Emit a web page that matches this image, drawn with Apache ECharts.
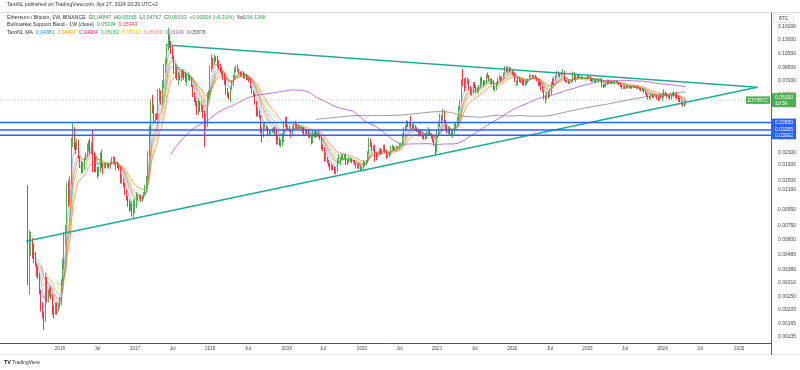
<!DOCTYPE html>
<html><head><meta charset="utf-8">
<script src="https://cdn.jsdelivr.net/npm/echarts@6/dist/echarts.min.js"></script>
<style>html,body{margin:0;padding:0;background:#fff}#c{width:800px;height:370px}</style>
</head><body><div id="c"></div>
<script>
// ---------- data (weekly ETH/BTC, weeks start Monday 2015-08-03) ----------
const firstWeek = '2015-08-03';
const firstOpen = 0.0090;
const close2015 = [0.0037,0.0055,0.0058,0.0052,0.0046,0.0041,0.0037,0.0035,0.0027,0.0022,0.0019,0.0018,0.0030,0.0026,0.0027,0.0028,0.0025,0.0021,0.0020,0.0021,0.0020,0.0022];
const high2015  = [0.0140,0.0070,0.0068,0.0062,0.0057,0.0050,0.0042,0.0040,0.0036,0.0028,0.0023,0.0020,0.0036,0.0034,0.0028,0.0030,0.0029,0.0026,0.0022,0.0023,0.0023,0.0023];
const low2015   = [0.0030,0.0026,0.0047,0.0045,0.0042,0.0040,0.0034,0.0033,0.0026,0.0020,0.0018,0.0015,0.0017,0.0023,0.0023,0.0025,0.0024,0.0019,0.0018,0.0019,0.0019,0.0020];
const close2016 = [0.0023,0.0032,0.0040,0.0063,0.0070,0.0140,0.0105,0.0145,0.0260,0.0330,0.0260,0.0248,0.0275,0.0213,0.0198,0.0178,0.0193,0.0209,0.0221,0.0255,0.0265,0.0240,0.0263,0.0225,0.0211,0.0178,0.0163,0.0175,0.0218,0.0195,0.0185,0.0186,0.0190,0.0190,0.0187,0.0195,0.0206,0.0213,0.0195,0.0197,0.0187,0.0181,0.0150,0.0152,0.0141,0.0127,0.0114,0.0105,0.0099,0.0104,0.0087,0.0098];
const high2016  = [0.0025,0.0033,0.0045,0.0068,0.0075,0.0145,0.0150,0.0160,0.0290,0.0365,0.0340,0.0270,0.0285,0.0280,0.0220,0.0200,0.0200,0.0215,0.0230,0.0265,0.0275,0.0285,0.0270,0.0325,0.0230,0.0215,0.0185,0.0185,0.0230,0.0240,0.0195,0.0195,0.0195,0.0194,0.0195,0.0200,0.0215,0.0218,0.0215,0.0200,0.0200,0.0190,0.0185,0.0165,0.0155,0.0145,0.0130,0.0118,0.0112,0.0108,0.0105,0.0110];
const low2016   = [0.0021,0.0022,0.0030,0.0038,0.0055,0.0068,0.0100,0.0105,0.0140,0.0250,0.0240,0.0225,0.0240,0.0208,0.0182,0.0168,0.0167,0.0175,0.0205,0.0215,0.0235,0.0225,0.0225,0.0170,0.0170,0.0170,0.0155,0.0160,0.0170,0.0180,0.0165,0.0180,0.0180,0.0182,0.0180,0.0180,0.0192,0.0200,0.0190,0.0175,0.0181,0.0175,0.0143,0.0142,0.0135,0.0120,0.0110,0.0100,0.0093,0.0094,0.0086,0.0084];
const close2017 = [0.0100,0.0117,0.0117,0.0117,0.0112,0.0115,0.0122,0.0136,0.0152,0.0230,0.0320,0.0500,0.0460,0.0375,0.0410,0.0390,0.0580,0.0590,0.0495,0.0640,0.0810,0.0920,0.1200,0.1300,0.1230,0.1140,0.0990,0.0790,0.0820,0.0740,0.0760,0.0730,0.0770,0.0760,0.0750,0.0710,0.0740,0.0740,0.0710,0.0640,0.0550,0.0530,0.0490,0.0420,0.0490,0.0440,0.0480,0.0430,0.0350,0.0360,0.0550,0.0560];
const high2017  = [0.0115,0.0125,0.0122,0.0120,0.0120,0.0118,0.0125,0.0140,0.0160,0.0235,0.0350,0.0520,0.0560,0.0480,0.0420,0.0420,0.0610,0.0620,0.0600,0.0700,0.0900,0.0980,0.1220,0.1560,0.1420,0.1280,0.1180,0.1020,0.0900,0.0860,0.0800,0.0780,0.0810,0.0830,0.0810,0.0800,0.0780,0.0790,0.0760,0.0730,0.0650,0.0580,0.0540,0.0510,0.0530,0.0510,0.0510,0.0480,0.0440,0.0420,0.0580,0.0600];
const low2017   = [0.0090,0.0098,0.0110,0.0113,0.0108,0.0108,0.0112,0.0118,0.0130,0.0150,0.0215,0.0300,0.0420,0.0360,0.0360,0.0380,0.0385,0.0500,0.0480,0.0480,0.0620,0.0780,0.0880,0.1100,0.1150,0.1050,0.0960,0.0770,0.0720,0.0700,0.0650,0.0700,0.0690,0.0730,0.0700,0.0680,0.0640,0.0700,0.0690,0.0630,0.0540,0.0500,0.0470,0.0410,0.0410,0.0430,0.0430,0.0390,0.0250,0.0330,0.0340,0.0520];
const close2018 = [0.0830,0.0950,0.0900,0.0990,0.0980,0.0900,0.0890,0.0830,0.0780,0.0760,0.0710,0.0580,0.0570,0.0560,0.0620,0.0680,0.0740,0.0820,0.0830,0.0830,0.0790,0.0780,0.0790,0.0760,0.0760,0.0720,0.0720,0.0710,0.0630,0.0590,0.0560,0.0500,0.0450,0.0420,0.0400,0.0330,0.0310,0.0340,0.0345,0.0330,0.0305,0.0315,0.0315,0.0325,0.0330,0.0320,0.0268,0.0290,0.0260,0.0265,0.0280,0.0350,0.0380];
const high2018  = [0.0880,0.1040,0.0990,0.1040,0.1010,0.1020,0.0950,0.0900,0.0860,0.0800,0.0770,0.0720,0.0620,0.0580,0.0630,0.0700,0.0760,0.0850,0.0880,0.0890,0.0840,0.0800,0.0810,0.0800,0.0780,0.0770,0.0760,0.0730,0.0720,0.0640,0.0600,0.0570,0.0510,0.0460,0.0440,0.0410,0.0340,0.0360,0.0370,0.0350,0.0340,0.0325,0.0320,0.0335,0.0340,0.0340,0.0330,0.0300,0.0290,0.0280,0.0310,0.0370,0.0400];
const low2018   = [0.0530,0.0800,0.0830,0.0880,0.0930,0.0850,0.0820,0.0790,0.0760,0.0700,0.0650,0.0560,0.0540,0.0520,0.0500,0.0600,0.0640,0.0720,0.0790,0.0800,0.0770,0.0740,0.0760,0.0720,0.0710,0.0700,0.0700,0.0680,0.0620,0.0570,0.0540,0.0480,0.0400,0.0400,0.0390,0.0310,0.0270,0.0290,0.0330,0.0320,0.0295,0.0300,0.0305,0.0310,0.0315,0.0300,0.0260,0.0260,0.0255,0.0250,0.0255,0.0270,0.0340];
const close2019 = [0.0340,0.0340,0.0325,0.0310,0.0340,0.0345,0.0355,0.0340,0.0345,0.0340,0.0335,0.0320,0.0310,0.0325,0.0315,0.0300,0.0295,0.0270,0.0300,0.0310,0.0300,0.0310,0.0300,0.0285,0.0250,0.0245,0.0210,0.0210,0.0200,0.0190,0.0180,0.0185,0.0180,0.0170,0.0175,0.0200,0.0210,0.0210,0.0215,0.0215,0.0220,0.0195,0.0200,0.0205,0.0210,0.0200,0.0200,0.0195,0.0185,0.0190,0.0180,0.0185];
const high2019  = [0.0400,0.0350,0.0345,0.0330,0.0345,0.0360,0.0375,0.0360,0.0355,0.0350,0.0345,0.0340,0.0340,0.0330,0.0330,0.0320,0.0305,0.0300,0.0330,0.0320,0.0320,0.0320,0.0320,0.0305,0.0290,0.0260,0.0250,0.0230,0.0215,0.0205,0.0195,0.0195,0.0190,0.0185,0.0185,0.0210,0.0225,0.0215,0.0225,0.0225,0.0225,0.0225,0.0205,0.0215,0.0215,0.0210,0.0205,0.0205,0.0195,0.0195,0.0195,0.0190];
const low2019   = [0.0330,0.0325,0.0315,0.0290,0.0300,0.0335,0.0335,0.0330,0.0330,0.0330,0.0325,0.0310,0.0300,0.0300,0.0305,0.0290,0.0285,0.0260,0.0265,0.0290,0.0290,0.0290,0.0290,0.0280,0.0240,0.0235,0.0200,0.0200,0.0195,0.0185,0.0175,0.0175,0.0175,0.0165,0.0165,0.0170,0.0195,0.0190,0.0205,0.0205,0.0210,0.0190,0.0190,0.0195,0.0200,0.0195,0.0195,0.0190,0.0180,0.0180,0.0178,0.0175];
const close2020 = [0.0180,0.0195,0.0195,0.0200,0.0230,0.0280,0.0260,0.0250,0.0255,0.0225,0.0220,0.0225,0.0235,0.0230,0.0240,0.0255,0.0235,0.0220,0.0220,0.0225,0.0250,0.0250,0.0245,0.0245,0.0248,0.0250,0.0260,0.0260,0.0305,0.0330,0.0340,0.0360,0.0355,0.0365,0.0340,0.0345,0.0340,0.0335,0.0325,0.0300,0.0325,0.0305,0.0295,0.0290,0.0290,0.0310,0.0320,0.0310,0.0295,0.0275,0.0260,0.0235];
const high2020  = [0.0185,0.0205,0.0200,0.0205,0.0235,0.0290,0.0285,0.0270,0.0260,0.0260,0.0230,0.0230,0.0245,0.0245,0.0245,0.0260,0.0260,0.0240,0.0225,0.0230,0.0255,0.0260,0.0255,0.0250,0.0255,0.0255,0.0265,0.0265,0.0310,0.0340,0.0350,0.0380,0.0375,0.0370,0.0405,0.0360,0.0360,0.0350,0.0340,0.0330,0.0330,0.0330,0.0310,0.0300,0.0300,0.0320,0.0340,0.0330,0.0310,0.0300,0.0280,0.0265];
const low2020   = [0.0172,0.0178,0.0185,0.0190,0.0195,0.0225,0.0250,0.0235,0.0235,0.0200,0.0205,0.0215,0.0220,0.0225,0.0225,0.0235,0.0230,0.0210,0.0210,0.0215,0.0220,0.0240,0.0240,0.0240,0.0240,0.0245,0.0245,0.0250,0.0255,0.0290,0.0320,0.0330,0.0340,0.0345,0.0330,0.0330,0.0330,0.0320,0.0315,0.0295,0.0300,0.0295,0.0285,0.0280,0.0280,0.0285,0.0305,0.0300,0.0285,0.0270,0.0255,0.0220];
const close2021 = [0.0310,0.0340,0.0400,0.0385,0.0440,0.0375,0.0340,0.0320,0.0330,0.0305,0.0300,0.0310,0.0355,0.0355,0.0385,0.0460,0.0510,0.0680,0.0660,0.0640,0.0690,0.0690,0.0630,0.0570,0.0585,0.0665,0.0640,0.0590,0.0590,0.0630,0.0720,0.0690,0.0660,0.0670,0.0750,0.0750,0.0700,0.0700,0.0690,0.0620,0.0620,0.0660,0.0710,0.0720,0.0710,0.0730,0.0770,0.0840,0.0800,0.0850,0.0810,0.0820];
const high2021  = [0.0330,0.0370,0.0420,0.0410,0.0450,0.0440,0.0380,0.0345,0.0345,0.0335,0.0320,0.0320,0.0360,0.0370,0.0400,0.0470,0.0520,0.0710,0.0830,0.0720,0.0740,0.0730,0.0710,0.0640,0.0620,0.0680,0.0680,0.0650,0.0630,0.0650,0.0740,0.0730,0.0700,0.0700,0.0770,0.0790,0.0760,0.0720,0.0720,0.0700,0.0640,0.0680,0.0730,0.0760,0.0740,0.0750,0.0790,0.0870,0.0860,0.0870,0.0860,0.0850];
const low2021   = [0.0230,0.0300,0.0340,0.0370,0.0380,0.0370,0.0330,0.0310,0.0305,0.0300,0.0295,0.0290,0.0305,0.0330,0.0345,0.0380,0.0440,0.0500,0.0640,0.0590,0.0620,0.0660,0.0600,0.0560,0.0550,0.0570,0.0620,0.0580,0.0570,0.0580,0.0620,0.0660,0.0640,0.0650,0.0660,0.0720,0.0690,0.0660,0.0650,0.0600,0.0590,0.0600,0.0650,0.0700,0.0690,0.0700,0.0720,0.0760,0.0790,0.0780,0.0790,0.0800];
const close2022 = [0.0770,0.0780,0.0680,0.0680,0.0720,0.0700,0.0690,0.0680,0.0660,0.0670,0.0680,0.0700,0.0740,0.0750,0.0740,0.0750,0.0730,0.0700,0.0680,0.0670,0.0610,0.0590,0.0530,0.0530,0.0580,0.0550,0.0580,0.0670,0.0660,0.0720,0.0740,0.0790,0.0770,0.0750,0.0780,0.0800,0.0700,0.0700,0.0680,0.0680,0.0670,0.0690,0.0770,0.0720,0.0750,0.0730,0.0730,0.0740,0.0720,0.0720,0.0720,0.0720];
const high2022  = [0.0830,0.0800,0.0790,0.0700,0.0740,0.0730,0.0710,0.0710,0.0700,0.0690,0.0700,0.0720,0.0760,0.0770,0.0760,0.0760,0.0760,0.0740,0.0720,0.0690,0.0680,0.0640,0.0600,0.0560,0.0590,0.0590,0.0600,0.0680,0.0720,0.0740,0.0760,0.0810,0.0800,0.0780,0.0800,0.0830,0.0810,0.0710,0.0700,0.0700,0.0690,0.0710,0.0800,0.0790,0.0770,0.0760,0.0760,0.0760,0.0750,0.0740,0.0730,0.0730];
const low2022   = [0.0760,0.0740,0.0680,0.0640,0.0650,0.0680,0.0670,0.0650,0.0640,0.0640,0.0650,0.0670,0.0700,0.0730,0.0720,0.0730,0.0720,0.0690,0.0640,0.0640,0.0600,0.0580,0.0520,0.0490,0.0520,0.0530,0.0540,0.0560,0.0650,0.0650,0.0690,0.0730,0.0750,0.0730,0.0750,0.0760,0.0690,0.0680,0.0670,0.0660,0.0660,0.0670,0.0680,0.0700,0.0680,0.0720,0.0720,0.0730,0.0710,0.0710,0.0710,0.0710];
const close2023 = [0.0730,0.0740,0.0710,0.0700,0.0700,0.0700,0.0690,0.0700,0.0700,0.0700,0.0650,0.0640,0.0640,0.0660,0.0690,0.0670,0.0680,0.0670,0.0670,0.0670,0.0680,0.0670,0.0660,0.0650,0.0620,0.0630,0.0620,0.0640,0.0630,0.0625,0.0630,0.0625,0.0635,0.0630,0.0625,0.0620,0.0610,0.0600,0.0610,0.0590,0.0570,0.0550,0.0530,0.0540,0.0560,0.0540,0.0550,0.0550,0.0530,0.0520,0.0550,0.0540];
const high2023  = [0.0750,0.0760,0.0745,0.0720,0.0720,0.0720,0.0710,0.0720,0.0720,0.0720,0.0720,0.0660,0.0660,0.0670,0.0710,0.0700,0.0690,0.0690,0.0690,0.0690,0.0700,0.0690,0.0680,0.0670,0.0650,0.0640,0.0640,0.0650,0.0640,0.0640,0.0640,0.0640,0.0645,0.0640,0.0640,0.0640,0.0630,0.0620,0.0620,0.0620,0.0600,0.0580,0.0560,0.0550,0.0570,0.0570,0.0560,0.0560,0.0560,0.0540,0.0570,0.0560];
const low2023   = [0.0700,0.0720,0.0690,0.0680,0.0680,0.0680,0.0670,0.0680,0.0690,0.0680,0.0630,0.0620,0.0630,0.0630,0.0650,0.0660,0.0660,0.0660,0.0660,0.0660,0.0670,0.0660,0.0650,0.0630,0.0610,0.0610,0.0610,0.0610,0.0620,0.0615,0.0615,0.0615,0.0620,0.0620,0.0615,0.0610,0.0600,0.0590,0.0590,0.0580,0.0560,0.0540,0.0520,0.0520,0.0520,0.0530,0.0530,0.0540,0.0520,0.0510,0.0510,0.0530];
const close2024 = [0.0560,0.0580,0.0560,0.0540,0.0550,0.0530,0.0560,0.0570,0.0550,0.0560,0.0540,0.0525,0.0512,0.0488,0.0475,0.04847,0.05153];
const high2024  = [0.0580,0.0610,0.0590,0.0570,0.0560,0.0560,0.0570,0.0580,0.0590,0.0580,0.0580,0.0550,0.0535,0.0515,0.0500,0.0495,0.05165];
const low2024   = [0.0510,0.0530,0.0550,0.0530,0.0530,0.0520,0.0520,0.0550,0.0540,0.0530,0.0520,0.0500,0.0500,0.0480,0.0465,0.0465,0.04767];

// MA indicator settings (TaroNL MA) and their legend values
const maPeriods = [5, 8, 10, 13, 17, 21];
const maColors  = ['#2196f3','#ff9800','#e91e63','#4caf50','#f5dc00','#f44336'];
const smaLongPeriods = [100, 200];
const smaLongColors  = ['#b25ccc','#8a8a8a'];
const maLegendValues = ['0.04981','0.04903','0.04904','0.05082','0.05311','0.05363','0.06349','0.05878'];
const maLegendColors = ['#2196f3','#ff9800','#e91e63','#4caf50','#e0c800','#f77c80','#b25ccc','#555'];

// drawings
const trendUpper = [['2017-06-04', 0.1202], ['2025-04-04', 0.0629]];
const trendLower = [['2015-07-24', 0.00589], ['2025-04-04', 0.0629]];
const levelPrices = [0.03650, 0.03255, 0.03002];
const lastPrice = 0.05153;
const countdown = '1d 5h';

// axes
const priceTicks = [0.16, 0.13, 0.105, 0.085, 0.07, 0.056, 0.023, 0.019, 0.015, 0.013, 0.0095, 0.0075, 0.006, 0.0048, 0.0038, 0.0031, 0.0025, 0.00205, 0.00165, 0.00135];
const timeTicks = ['2016-01-04','2016-07-04','2017-01-02','2017-07-03','2018-01-01','2018-07-02','2019-01-07','2019-07-01','2020-01-06','2020-07-06','2021-01-04','2021-07-05','2022-01-03','2022-07-04','2023-01-02','2023-07-03','2024-01-01','2024-07-01','2025-01-06'];
const timeTickLabels = ['2016','Jul','2017','Jul','2018','Jul','2019','Jul','2020','Jul','2021','Jul','2022','Jul','2023','Jul','2024','Jul','2025'];
const xRange = ['2015-03-20', '2025-06-09'];
const yRange = [0.001231, 0.1968];

// ---------- build ----------
const ts = s => Date.parse(s + 'T00:00:00Z');
const closes = [].concat(close2015, close2016, close2017, close2018, close2019, close2020, close2021, close2022, close2023, close2024);
const highs  = [].concat(high2015, high2016, high2017, high2018, high2019, high2020, high2021, high2022, high2023, high2024);
const lows   = [].concat(low2015, low2016, low2017, low2018, low2019, low2020, low2021, low2022, low2023, low2024);
const WEEK = 7 * 86400000;
const t0 = ts(firstWeek);
const times = closes.map((_, i) => t0 + i * WEEK);
const opens = closes.map((c, i) => i === 0 ? firstOpen : closes[i - 1]);
const candles = closes.map((c, i) => [times[i], opens[i], c, Math.min(lows[i], opens[i], c), Math.max(highs[i], opens[i], c)]);

function ema(src, n) {
  const out = []; const k = 2 / (n + 1); let prev = null; let sum = 0;
  for (let i = 0; i < src.length; i++) {
    if (i < n - 1) { sum += src[i]; out.push(null); continue; }
    if (i === n - 1) { sum += src[i]; prev = sum / n; }
    else prev = src[i] * k + prev * (1 - k);
    out.push(prev);
  }
  return out;
}
function sma(src, n) {
  const out = []; let sum = 0;
  for (let i = 0; i < src.length; i++) {
    sum += src[i]; if (i >= n) sum -= src[i - n];
    out.push(i >= n - 1 ? sum / n : null);
  }
  return out;
}

const FONT = 'Liberation Sans';
const GREEN = '#4caf50', RED = '#f23645', TEAL = '#22ab94', BLUE = '#2962ff';
const xMin = ts(xRange[0]), xMax = ts(xRange[1]);

const series = [];
maPeriods.forEach((p, j) => {
  const v = ema(closes, p);
  series.push({ type: 'line', data: times.map((t, i) => [t, v[i]]), showSymbol: false, symbol: 'none',
    lineStyle: { width: 0.9, color: maColors[j], opacity: 0.6 }, z: 3, silent: true, animation: false });
});
smaLongPeriods.forEach((p, j) => {
  const v = sma(closes, p);
  series.push({ type: 'line', data: times.map((t, i) => [t, v[i]]), showSymbol: false, symbol: 'none',
    lineStyle: { width: 1, color: smaLongColors[j], opacity: 0.85 }, z: 3, silent: true, animation: false });
});
series.push({
  type: 'candlestick', data: candles, barWidth: 1.2, z: 4, silent: true, animation: false,
  itemStyle: { color: GREEN, color0: RED, borderColor: GREEN, borderColor0: RED, borderWidth: 1 }
});
const badgeLabel = (bg, text) => ({ show: true, distance: 1, color: '#fff', backgroundColor: bg, formatter: text,
  fontSize: 5, fontFamily: FONT, padding: [1.2, 3, 0.8, 3], lineHeight: 6, align: 'left', verticalAlign: 'middle' });
// last price line
series.push({
  type: 'line', data: [[xMin, lastPrice], [xMax, lastPrice]], symbol: 'none', z: 5, silent: true, animation: false,
  lineStyle: { color: 'rgba(76,175,80,0.45)', width: 1, type: [1, 2] },
  endLabel: badgeLabel(GREEN, lastPrice.toFixed(5) + '\n' + countdown),
  markPoint: {
    silent: true, animation: false,
    data: [{ coord: [xMax, lastPrice], symbol: 'rect', symbolSize: [0.1, 0.1], itemStyle: { color: 'transparent' },
      label: { show: true, position: 'left', distance: 1, formatter: 'ETHBTC', color: '#fff', backgroundColor: GREEN,
        fontSize: 5, fontFamily: FONT, padding: [1.5, 2, 1, 2] } }]
  }
});
// horizontal level drawings
levelPrices.forEach(v => {
  series.push({
    type: 'line', data: [[xMin, v], [xMax, v]], symbol: 'none', z: 7, silent: true, animation: false,
    lineStyle: { color: BLUE, width: 1.6 },
    endLabel: badgeLabel(BLUE, v.toFixed(5))
  });
});
// triangle trend lines
[trendUpper, trendLower].forEach(tl => {
  series.push({
    type: 'line', data: tl.map(d => [ts(d[0]), d[1]]), symbol: 'none', z: 6, silent: true, animation: false,
    lineStyle: { color: TEAL, width: 1.6 }
  });
});

const timeTickMs = timeTicks.map(ts);
const chart = echarts.init(document.getElementById('c'), null, { renderer: 'canvas' });
chart.setOption({
  animation: false,
  backgroundColor: '#ffffff',
  textStyle: { fontFamily: FONT },
  grid: { left: 0, right: 29, top: 13, bottom: 27, outerBoundsMode: 'none' },
  xAxis: {
    type: 'value', min: xMin, max: xMax, scale: true,
    axisLine: { lineStyle: { color: '#555', width: 1 } }, axisTick: { show: false }, splitLine: { show: false },
    axisLabel: { customValues: timeTickMs, fontSize: 4.6, color: '#444', margin: 3.5, hideOverlap: false,
      formatter: v => { let k = 0, best = Infinity; timeTickMs.forEach((t, i) => { const d = Math.abs(t - v); if (d < best) { best = d; k = i; } }); return timeTickLabels[k]; } }
  },
  yAxis: [
    { type: 'log', logBase: 10, min: yRange[0], max: yRange[1], position: 'right',
      axisLine: { show: true, lineStyle: { color: '#666', width: 1 } }, axisTick: { show: false }, axisLabel: { show: false }, splitLine: { show: false } },
    { type: 'value', min: Math.log10(yRange[0]), max: Math.log10(yRange[1]), position: 'right',
      axisLine: { show: false }, axisTick: { show: false }, splitLine: { show: false },
      axisLabel: { customValues: priceTicks.map(Math.log10), fontSize: 5, color: '#444', margin: 7, hideOverlap: false,
        formatter: v => Math.pow(10, v).toFixed(5) } }
  ],
  series: series,
  graphic: [
    { type: 'line', shape: { x1: 0, y1: 12.5, x2: 800, y2: 12.5 }, style: { stroke: '#d9dbe0', lineWidth: 1 }, silent: true },
    { type: 'line', shape: { x1: 0, y1: 354.5, x2: 800, y2: 354.5 }, style: { stroke: '#e6e7ea', lineWidth: 1 }, silent: true },
    { type: 'line', shape: { x1: 771.5, y1: 343, x2: 771.5, y2: 355 }, style: { stroke: '#666', lineWidth: 1 }, silent: true },
    { type: 'rect', shape: { x: 773.5, y: 14.5, width: 20, height: 8, r: 1 }, style: { fill: '#fff', stroke: '#d1d4dc', lineWidth: 0.7 }, silent: true },
    { type: 'text', x: 783.5, y: 18.5, style: { text: 'BTC', font: '4.6px "Liberation Sans"', fill: '#444', align: 'center', verticalAlign: 'middle' }, silent: true },
    { type: 'text', x: 7, y: 2, style: { text: 'TaroNL published on TradingView.com, Apr 27, 2024 20:20 UTC+2', font: '5.1px "Liberation Sans"', fill: '#333' }, silent: true },
    { type: 'text', x: 7, y: 15, silent: true, style: {
      text: '{d|Ethereum / Bitcoin, 1W, BINANCE}  {d|O}{g|0.04847}  {d|H}{g|0.05165}  {d|L}{g|0.04767}  {d|C}{g|0.05153}  {g|+0.00306 (+6.31%)}  {d|Vol}{g|154.136K}',
      font: '5.2px "Liberation Sans"',
      rich: { d: { fill: '#333', fontSize: 5.2, fontFamily: FONT }, g: { fill: '#2e9e4f', fontSize: 5.2, fontFamily: FONT } } } },
    { type: 'text', x: 7, y: 22, silent: true, style: {
      text: '{d|Bullmarket Support Band - 1W (close)}  {g|0.05334}  {r|0.05343}',
      font: '5.2px "Liberation Sans"',
      rich: { d: { fill: '#333', fontSize: 5.2, fontFamily: FONT }, g: { fill: '#2e9e4f', fontSize: 5.2, fontFamily: FONT }, r: { fill: RED, fontSize: 5.2, fontFamily: FONT } } } },
    { type: 'text', x: 7, y: 30, silent: true, style: {
      text: '{d|TaroNL MA}  ' + maLegendValues.map((v, i) => '{m' + i + '|' + v + '}').join('  '),
      font: '5.2px "Liberation Sans"',
      rich: Object.assign({ d: { fill: '#333', fontSize: 5.2, fontFamily: FONT } },
        Object.fromEntries(maLegendColors.map((c, i) => ['m' + i, { fill: c, fontSize: 5.2, fontFamily: FONT }]))) } },
    { type: 'text', x: 4, y: 359.5, style: { text: 'TV', font: 'bold 5.5px "Liberation Sans"', fill: '#131722' }, silent: true },
    { type: 'text', x: 12, y: 360, style: { text: 'TradingView', font: '5px "Liberation Sans"', fill: '#333' }, silent: true }
  ]
});
</script></body></html>
